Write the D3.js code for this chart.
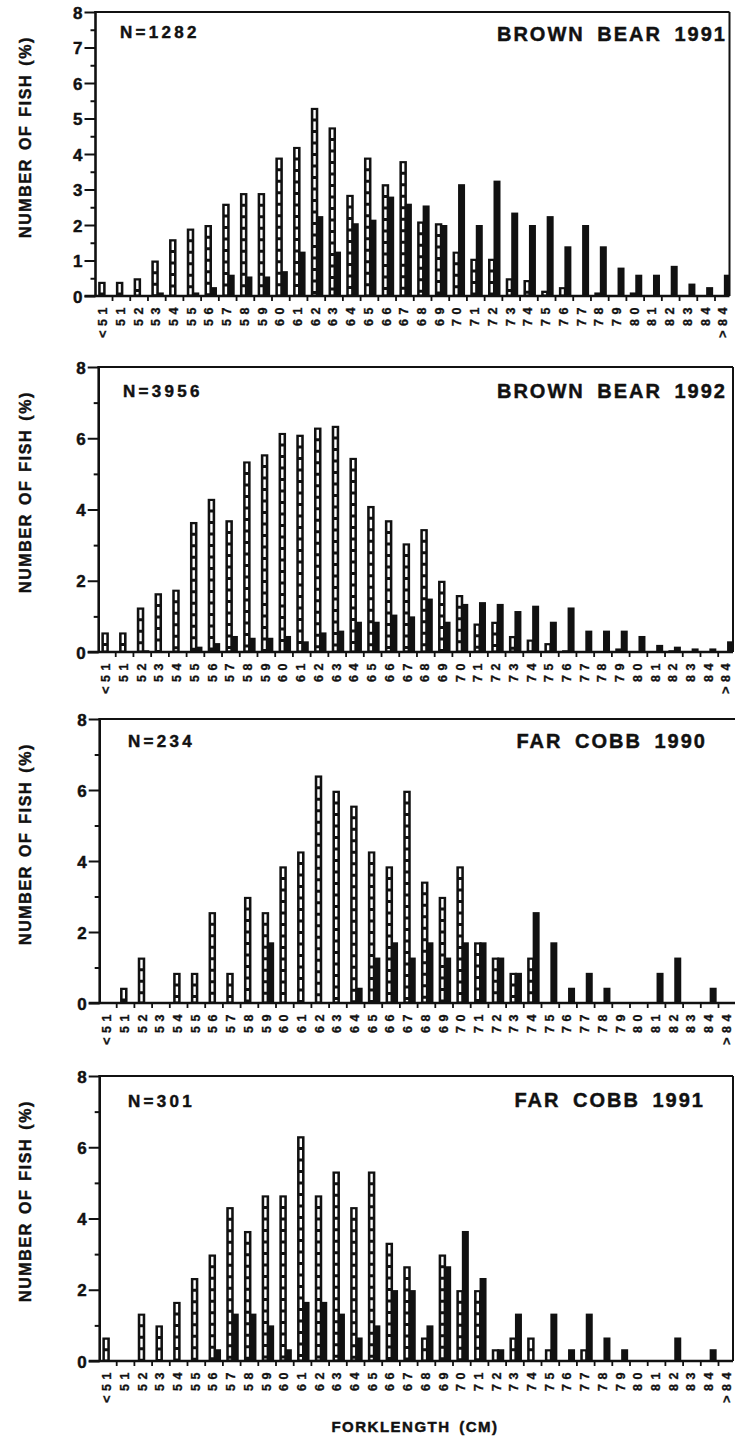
<!DOCTYPE html>
<html>
<head>
<meta charset="utf-8">
<script src="https://cdn.jsdelivr.net/npm/d3@7"></script>
<style>
  body { margin: 0; background: #fff; }
  svg text { font-family: "Liberation Sans", Arial, Helvetica, sans-serif; font-weight: bold; fill: #111; stroke: #111; stroke-width: 0.45px; }
</style>
</head>
<body>
<svg id="chart" width="735" height="1441"></svg>
<script>
// Fork-length classes (cm)
const categories = ["<51","51","52","53","54","55","56","57","58","59",
  "60","61","62","63","64","65","66","67","68","69",
  "70","71","72","73","74","75","76","77","78","79",
  "80","81","82","83","84",">84"];

// Percent of fish per class: open bars and solid bars
const brownBear1991Open  = [0.4,0.4,0.5,1.0,1.6,1.9,2.0,2.6,2.9,2.9, 3.9,4.2,5.3,4.75,2.85,3.9,3.15,3.8,2.1,2.05, 1.25,1.05,1.05,0.5,0.45,0.15,0.25,0,0.1,0, 0.1,0,0,0,0,0];
const brownBear1991Solid = [0,0,0,0.1,0,0.1,0.25,0.6,0.55,0.55, 0.7,1.25,2.25,1.25,2.05,2.15,2.8,2.6,2.55,2.0, 3.15,2.0,3.25,2.35,2.0,2.25,1.4,2.0,1.4,0.8, 0.6,0.6,0.85,0.35,0.25,0.6];

const brownBear1992Open  = [0.55,0.55,1.25,1.65,1.75,3.65,4.3,3.7,5.35,5.55, 6.15,6.1,6.3,6.35,5.45,4.1,3.7,3.05,3.45,2.0, 1.6,0.8,0.85,0.45,0.35,0.25,0.05,0,0,0.1, 0,0,0.05,0,0,0];
const brownBear1992Solid = [0,0,0.05,0,0,0.15,0.25,0.45,0.4,0.4, 0.45,0.3,0.55,0.6,0.85,0.85,1.05,1.0,1.5,0.85, 1.35,1.4,1.35,1.15,1.3,0.85,1.25,0.6,0.6,0.6, 0.45,0.2,0.15,0.1,0.1,0.3];

const farCobb1990Open  = [0,0.43,1.28,0,0.85,0.85,2.56,0.85,2.99,2.56, 3.85,4.27,6.41,5.98,5.56,4.27,3.85,5.98,3.42,2.99, 3.85,1.71,1.28,0.85,1.28,0,0,0,0,0, 0,0,0,0,0,0];
const farCobb1990Solid = [0,0,0,0,0,0,0,0,0,1.71, 0,0,0,0,0.43,1.28,1.71,1.28,1.71,1.28, 1.71,1.71,1.28,0.85,2.56,1.71,0.43,0.85,0.43,0, 0,0.85,1.28,0,0.43,0];

const farCobb1991Open  = [0.66,0,1.33,1.0,1.66,2.33,2.99,4.32,3.65,4.65, 4.65,6.31,4.65,5.32,4.32,5.32,3.32,2.66,0.66,2.99, 1.99,1.99,0.33,0.66,0.66,0.33,0,0.33,0,0, 0,0,0,0,0,0];
const farCobb1991Solid = [0,0,0,0,0,0,0.33,1.33,1.33,1.0, 0.33,1.66,1.66,1.33,0.66,1.0,1.99,1.99,1.0,2.66, 3.65,2.33,0.33,1.33,0,1.33,0.33,1.33,0.66,0.33, 0,0,0.66,0,0.33,0];

const panelTitles = ["BROWN BEAR 1991","BROWN BEAR 1992","FAR COBB 1990","FAR COBB 1991"];
const sampleSizes = ["N=1282","N=3956","N=234","N=301"];
const yMax = 8;
const yMajorSteps = [1, 2, 2, 2];

const openSeries  = [brownBear1991Open, brownBear1992Open, farCobb1990Open, farCobb1991Open];
const solidSeries = [brownBear1991Solid, brownBear1992Solid, farCobb1990Solid, farCobb1991Solid];

// Frame geometry for each panel
const frames = [
  { left: 93.8, band: 17.72, top: 12,   zero: 296,  rightBorder: 729.5, nX: 120, nY: 38,   titleRight: 725, titleY: 41 },
  { left: 97.0, band: 17.72, top: 367,  zero: 652,  rightBorder: 733,   nX: 123, nY: 397,  titleRight: 725, titleY: 398 },
  { left: 98.0, band: 17.70, top: 719,  zero: 1003, rightBorder: null,  nX: 128, nY: 747,  titleRight: 705, titleY: 748 },
  { left: 98.0, band: 17.70, top: 1076, zero: 1361, rightBorder: 733,   nX: 128, nY: 1107, titleRight: 703, titleY: 1107 }
];

const svg = d3.select("#chart");
const defs = svg.append("defs");

frames.forEach((f, p) => {
  const g = svg.append("g");
  const spineX = f.left + 1.7;
  const x = d3.scaleBand().domain(categories)
    .range([f.left, f.left + f.band * categories.length]).padding(0);
  const y = d3.scaleLinear().domain([0, yMax]).range([f.zero, f.top]);
  const xEnd = f.rightBorder != null ? f.rightBorder : 735;

  // bars stay inside the frame
  const clipId = `plot-clip-${p}`;
  defs.append("clipPath").attr("id", clipId).append("rect")
    .attr("x", spineX).attr("y", f.top).attr("width", xEnd - spineX).attr("height", f.zero - f.top);

  // frame lines
  g.append("line").attr("x1", spineX - 1).attr("x2", xEnd).attr("y1", f.top).attr("y2", f.top)
    .attr("stroke", "#111").attr("stroke-width", 2.2);
  if (f.rightBorder != null) {
    g.append("line").attr("x1", f.rightBorder).attr("x2", f.rightBorder).attr("y1", f.top).attr("y2", f.zero)
      .attr("stroke", "#111").attr("stroke-width", 2);
  }

  // bars
  const cx = c => x(c) + x.bandwidth() / 2;
  const open = openSeries[p], solid = solidSeries[p];
  const rows = categories.map((c, i) => ({ c, o: open[i], s: solid[i] }));
  const bars = g.append("g").attr("clip-path", `url(#${clipId})`);

  const ob = bars.append("g").selectAll("g").data(rows.filter(d => d.o > 0)).join("g");
  ob.append("rect")
    .attr("x", d => cx(d.c) - 4.5).attr("width", 7.5)
    .attr("y", d => y(d.o)).attr("height", d => y(0) - y(d.o))
    .attr("fill", "#111");
  ob.filter(d => y(0) - y(d.o) > 5).append("line")
    .attr("x1", d => cx(d.c) - 0.75).attr("x2", d => cx(d.c) - 0.75)
    .attr("y1", d => y(d.o) + 2.2).attr("y2", y(0) - 1.5)
    .attr("stroke", "#fff").attr("stroke-width", 2.4)
    .attr("stroke-dasharray", "8.5,3");

  bars.append("g").selectAll("rect").data(rows.filter(d => d.s > 0)).join("rect")
    .attr("x", d => cx(d.c) + 1).attr("width", 7)
    .attr("y", d => y(d.s)).attr("height", d => y(0) - y(d.s))
    .attr("fill", "#111");

  // y axis
  const step = yMajorSteps[p];
  const majors = d3.range(0, yMax + 0.001, step);
  const minors = d3.range(step / 2, yMax, step);
  const ya = g.append("g").attr("transform", `translate(${spineX},0)`)
    .call(d3.axisLeft(y).tickValues(majors).tickSize(11).tickPadding(2).tickFormat(d3.format("d")));
  ya.select(".domain").attr("stroke", "#111").attr("stroke-width", 2.6).attr("d", `M0,${f.top - 1}V${f.zero + 1}`);
  ya.selectAll(".tick line").attr("stroke", "#111").attr("stroke-width", 2);
  ya.selectAll(".tick text").attr("font-size", 17).attr("dy", "0.36em").style("fill", "#111");
  const yaMinor = g.append("g").attr("transform", `translate(${spineX},0)`)
    .call(d3.axisLeft(y).tickValues(minors).tickSize(5).tickFormat(""));
  yaMinor.select(".domain").remove();
  yaMinor.selectAll(".tick line").attr("stroke", "#111").attr("stroke-width", 2);

  // x axis baseline and class ticks
  g.append("line").attr("x1", spineX - 11).attr("x2", xEnd).attr("y1", f.zero).attr("y2", f.zero)
    .attr("stroke", "#111").attr("stroke-width", 2.6);
  g.append("g").selectAll("line").data(categories.slice(1)).join("line")
    .attr("x1", d => x(d) + 1).attr("x2", d => x(d) + 1)
    .attr("y1", f.zero).attr("y2", f.zero + 5)
    .attr("stroke", "#111").attr("stroke-width", 1.8);
  g.append("g").selectAll("text").data(categories).join("text")
    .attr("transform", d => `translate(${cx(d) + 4.4},${f.zero + 7}) rotate(-90)`)
    .attr("text-anchor", "end")
    .attr("font-size", 12.5).attr("letter-spacing", 4.5)
    .style("stroke-width", "0.35px")
    .text(d => d);

  // annotations
  g.append("text").attr("x", f.nX).attr("y", f.nY)
    .attr("font-size", 17).attr("letter-spacing", 3.3).text(sampleSizes[p]);
  g.append("text").attr("x", f.titleRight + 2).attr("y", f.titleY)
    .attr("text-anchor", "end").attr("font-size", 20)
    .attr("letter-spacing", 2).attr("word-spacing", 5).text(panelTitles[p]);

  g.append("text")
    .attr("transform", `translate(30.5,${f.top + 125}) rotate(-90)`)
    .attr("text-anchor", "middle").attr("font-size", 16)
    .attr("letter-spacing", 1.6).attr("word-spacing", 2)
    .text("NUMBER OF FISH (%)");
});

svg.append("text").attr("x", 415).attr("y", 1432)
  .attr("text-anchor", "middle").attr("font-size", 15)
  .attr("letter-spacing", 1.5).attr("word-spacing", 3)
  .text("FORKLENGTH (CM)");
</script>
</body>
</html>
